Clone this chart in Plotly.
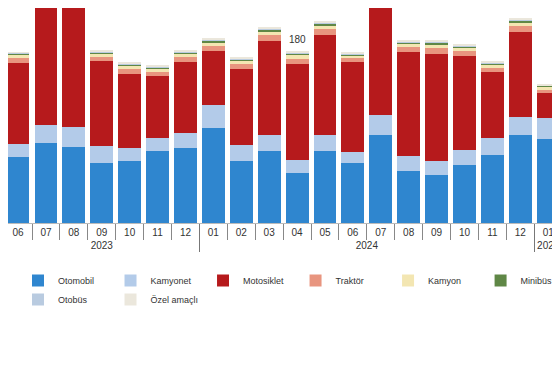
import plotly.graph_objects as go

ZW = "\u200b"
years = ["2023"] * 7 + ["2024"] * 12 + ["2025"] * 2
months = ["06", "07", "08", "09", "10", "11", "12",
          "01", "02", "03", "04", "05", "06", "07", "08", "09", "10", "11", "12",
          "01", "02"]

otomobil   = [66, 80, 76, 60, 62, 72, 75, 95, 62, 72, 50, 72, 60, 88, 52, 48, 58, 68, 88, 84, 80]
kamyonet   = [13, 18, 20, 17, 13, 13, 15, 23, 16, 16, 13, 16, 11, 20, 15, 14, 15, 17, 18, 21, 18]
motosiklet = [81, 120, 125, 85, 74, 62, 71, 54, 76, 94, 96, 100, 90, 125, 104, 107, 94, 66, 85, 25, 40]
traktor    = [5, 5, 5, 4.5, 5, 4.5, 5, 5, 5, 6, 5.5, 6, 4, 5.5, 5, 6, 5, 4.5, 6, 3.5, 4]
kamyon     = [3, 3, 3, 3, 3, 3, 3, 3.5, 3, 3.5, 3.5, 3.5, 2.5, 3.5, 3, 3.5, 3, 3, 3.5, 2.5, 2.5]
minibus    = [1.5, 1.5, 1.5, 1.3, 1.5, 1.3, 1.5, 2, 1.5, 2, 1.5, 2, 1.2, 1.5, 1.5, 2, 1.5, 1.3, 2, 1, 1.2]
otobus     = [0.5, 0.5, 0.5, 0.5, 0.5, 0.5, 0.5, 0.6, 0.5, 0.6, 0.5, 0.6, 0.4, 0.5, 0.5, 0.6, 0.5, 0.5, 0.6, 0.4, 0.4]
ozel       = [1, 1, 1, 1.2, 1.5, 1.2, 1.5, 1.5, 1.5, 1.5, 1.5, 1.5, 1.3, 1.5, 1.5, 1.5, 1.5, 1.2, 1.5, 1, 1.3]

series = [
    ("Otomobil", otomobil, "#2f86cf"),
    ("Kamyonet", kamyonet, "#b3cbe9"),
    ("Motosiklet", motosiklet, "#b61a1c"),
    ("Traktör", traktor, "#e8957f"),
    ("Kamyon", kamyon, "#f3e6b2"),
    ("Minibüs", minibus, "#5f8746"),
    ("Otobüs", otobus, "#b9cbe0"),
    ("Özel amaçlı", ozel, "#ebe7dc"),
]

label_text = "180"
label_index = 10

# make inner labels unique per year so plotly keeps chronological order
year_list = ["2023", "2024", "2025"]
inner = [m + ZW * year_list.index(y) for y, m in zip(years, months)]
x = [years, inner]

fig = go.Figure()
for name, vals, col in series:
    fig.add_trace(go.Bar(x=x, y=vals, name=name, marker_color=col,
                         marker_line_width=0))

totals = [sum(s[1][i] for s in series) for i in range(len(months))]

fig.add_annotation(x=label_index, y=totals[label_index], text=label_text,
                   showarrow=False, yanchor="bottom", yshift=5,
                   font=dict(size=10, color="#333333"))

fig.update_layout(
    barmode="stack",
    bargap=0.18,
    width=560, height=380,
    margin=dict(l=0, r=0, t=0, b=165),
    paper_bgcolor="white", plot_bgcolor="white",
    font=dict(family="Liberation Sans, Arial, sans-serif", size=10, color="#404040"),
    showlegend=True,
    legend=dict(orientation="h", x=0.5, xanchor="center", y=-0.2, yanchor="top",
                font=dict(size=9, color="#333333"), itemwidth=30,
                traceorder="normal", tracegroupgap=0),
    xaxis=dict(range=[-0.36, 19.71], showgrid=False, ticks="outside",
               ticklen=16, tickcolor="#888888", showline=True,
               linecolor="#bbbbbb", dividercolor="#777777", dividerwidth=1,
               tickfont=dict(size=10, color="#333333")),
    yaxis=dict(range=[0, 215], visible=False, showgrid=False),
)

fig.write_html("out.html")
